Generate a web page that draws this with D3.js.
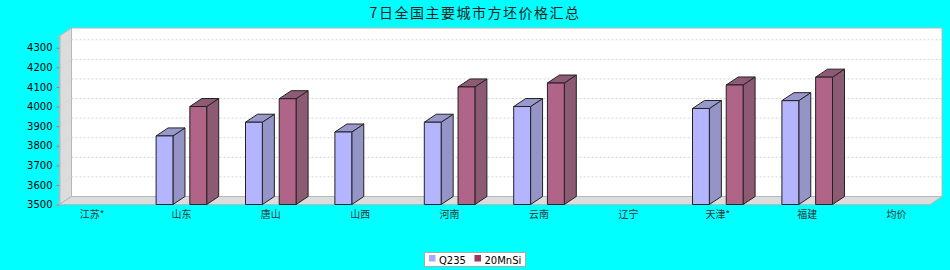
<!DOCTYPE html>
<html>
<head>
<meta charset="utf-8">
<script src="https://cdn.jsdelivr.net/npm/d3@7"></script>
<style>
  body { margin: 0; background: #00ffff; }
  svg { display: block; }
</style>
</head>
<body>
<div id="chart"></div>
<script>
const categories = ['江苏*', '山东', '唐山', '山西', '河南', '云南', '辽宁', '天津*', '福建', '均价'];
const seriesNames = ['Q235', '20MnSi'];
const q235 = [null, 3850, 3920, 3870, 3920, 4000, null, 3990, 4030, null];
const mnsi = [null, 4000, 4040, null, 4100, 4120, null, 4110, 4150, null];
const yTicks = [3500, 3600, 3700, 3800, 3900, 4000, 4100, 4200, 4300];

const width = 950, height = 270;
const depth = {x: 12, y: 8};
const plot = {left: 59.5, right: 930, top: 36, bottom: 204.5};

const colors = {
  Q235: {front: '#b4b4ff', side: '#9494c6', top: '#9898cc'},
  '20MnSi': {front: '#b06488', side: '#8c5a72', top: '#8e5a74'}
};

const svg = d3.select('#chart').append('svg')
  .attr('width', width).attr('height', height);

svg.append('rect').attr('width', width).attr('height', height).attr('fill', '#00ffff');

// title
svg.append('text')
  .attr('x', 475).attr('y', 18)
  .attr('text-anchor', 'middle')
  .attr('font-family', '"Noto Sans CJK SC", sans-serif')
  .attr('font-size', 14).attr('letter-spacing', 1.5)
  .attr('fill', '#222')
  .text('7日全国主要城市方坯价格汇总');

const y = d3.scaleLinear().domain([3500, 4360]).range([plot.bottom, plot.top]);
const x = d3.scalePoint().domain(categories).range([92, 896.6]);
const inner = d3.scaleBand().domain(seriesNames).range([-25.3, 25.3]).paddingInner(0.5);

const pts = a => a.map(p => p.join(',')).join(' ');

// walls
svg.append('polygon')
  .attr('points', pts([[plot.left + depth.x, plot.top - depth.y], [plot.right + depth.x, plot.top - depth.y],
    [plot.right + depth.x, plot.bottom - depth.y], [plot.left + depth.x, plot.bottom - depth.y]]))
  .attr('fill', '#fff').attr('stroke', '#b8b8b8');
svg.append('polygon')
  .attr('points', pts([[plot.left, plot.top], [plot.left + depth.x, plot.top - depth.y],
    [plot.left + depth.x, plot.bottom - depth.y], [plot.left, plot.bottom]]))
  .attr('fill', '#dcdcdc').attr('stroke', '#b8b8b8');
svg.append('polygon')
  .attr('points', pts([[plot.left, plot.bottom], [plot.left + depth.x, plot.bottom - depth.y],
    [plot.right + depth.x, plot.bottom - depth.y], [plot.right, plot.bottom]]))
  .attr('fill', '#dcdcdc').attr('stroke', '#b8b8b8');

// gridlines
const grid = svg.append('g').attr('stroke', '#d4d4d4').attr('stroke-dasharray', '2,2');
yTicks.slice(1).forEach(v => {
  grid.append('line')
    .attr('x1', plot.left + depth.x).attr('x2', plot.right + depth.x)
    .attr('y1', y(v) - depth.y).attr('y2', y(v) - depth.y);
  grid.append('line')
    .attr('x1', plot.left).attr('x2', plot.left + depth.x)
    .attr('y1', y(v)).attr('y2', y(v) - depth.y);
});

// y axis
const yAxis = svg.append('g').attr('transform', `translate(${plot.left},0)`)
  .call(d3.axisLeft(y).tickValues(yTicks).tickFormat(d3.format('d')).tickSize(3).tickPadding(4));
yAxis.select('.domain').attr('stroke', '#b8b8b8');
yAxis.selectAll('.tick line').attr('stroke', '#c07070');
yAxis.selectAll('.tick text')
  .attr('font-family', '"DejaVu Sans", sans-serif').attr('font-size', 10).attr('fill', '#000');

// bars
const series = [['Q235', q235], ['20MnSi', mnsi]];
const bars = svg.append('g').attr('stroke', '#222').attr('stroke-width', 1).attr('stroke-linejoin', 'round');
series.forEach(([name, vals]) => {
  const c = colors[name];
  const w = inner.bandwidth();
  vals.forEach((v, i) => {
    if (v == null) return;
    const x0 = x(categories[i]) + inner(name), x1 = x0 + w;
    const y0 = y(v), yb = plot.bottom;
    bars.append('polygon')
      .attr('points', pts([[x1, y0], [x1 + depth.x, y0 - depth.y], [x1 + depth.x, yb - depth.y], [x1, yb]]))
      .attr('fill', c.side);
    bars.append('polygon')
      .attr('points', pts([[x0, y0], [x0 + depth.x, y0 - depth.y], [x1 + depth.x, y0 - depth.y], [x1, y0]]))
      .attr('fill', c.top);
    bars.append('rect')
      .attr('x', x0).attr('y', y0).attr('width', w).attr('height', yb - y0)
      .attr('fill', c.front);
  });
});

// x labels
svg.append('g').selectAll('text').data(categories).join('text')
  .attr('x', d => x(d)).attr('y', 218)
  .attr('text-anchor', 'middle')
  .attr('font-family', '"Noto Sans CJK SC", sans-serif')
  .attr('font-size', 10).attr('fill', '#333')
  .text(d => d);

// legend
const legend = svg.append('g');
legend.append('rect').attr('x', 424.5).attr('y', 252.5).attr('width', 101).attr('height', 14)
  .attr('fill', '#fff').attr('stroke', '#aaa');
const litems = [{name: 'Q235', x: 429}, {name: '20MnSi', x: 474.5}];
litems.forEach(d => {
  legend.append('rect').attr('x', d.x).attr('y', 255).attr('width', 6.5).attr('height', 6.5)
    .attr('fill', d.name === 'Q235' ? '#aaaaff' : '#a0345e');
  legend.append('text').attr('x', d.x + 10).attr('y', 263.5)
    .attr('font-family', '"DejaVu Sans", sans-serif').attr('font-size', 10).attr('fill', '#000')
    .text(d.name);
});
</script>
</body>
</html>
